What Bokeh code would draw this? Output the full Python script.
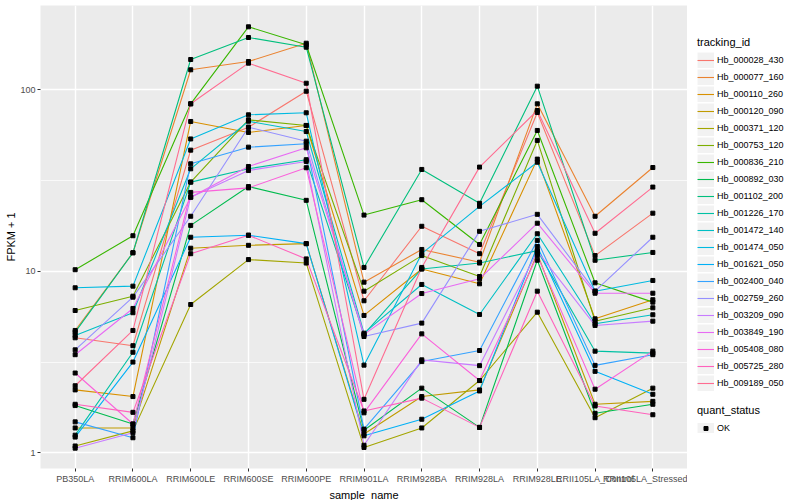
from bokeh.plotting import figure
from bokeh.models import FactorRange, Range1d, Legend, LegendItem, FixedTicker
from bokeh.layouts import row
from bokeh.embed import file_html
from bokeh.resources import INLINE

samples = ["PB350LA", "RRIM600LA", "RRIM600LE", "RRIM600SE", "RRIM600PE", "RRIM901LA",
           "RRIM928BA", "RRIM928LA", "RRIM928LE", "RRII105LA_Control", "RRII105LA_Stressed"]

tracking_ids = ["Hb_000028_430", "Hb_000077_160", "Hb_000110_260", "Hb_000120_090",
                "Hb_000371_120", "Hb_000753_120", "Hb_000836_210", "Hb_000892_030",
                "Hb_001102_200", "Hb_001226_170", "Hb_001472_140", "Hb_001474_050",
                "Hb_001621_050", "Hb_002400_040", "Hb_002759_260", "Hb_003209_090",
                "Hb_003849_190", "Hb_005408_080", "Hb_005725_280", "Hb_009189_050"]

colors = ["#F8766D", "#EA8331", "#D89000", "#C09B00", "#A3A500", "#7CAE00", "#39B600",
          "#00BB4E", "#00BF7D", "#00C1A3", "#00BFC4", "#00BAE0", "#00B0F6", "#35A2FF",
          "#9590FF", "#C77CFF", "#E76BF3", "#FA62DB", "#FF62BC", "#FF6C91"]

hb_000028_430 = [4.30, 3.89, 46.5, 62.2, 98.2, 6.88, 17.7, 12.5, 75.0, 12.2, 20.9]
hb_000077_160 = [4.72, 12.65, 128.9, 143.2, 180.6, 8.71, 13.19, 11.22, 83.7, 20.1, 37.3]
hb_000110_260 = [2.22, 2.04, 66.9, 58.2, 63.6, 5.71, 10.3, 8.53, 41.5, 5.47, 6.97]
hb_000120_090 = [1.37, 1.37, 13.4, 13.9, 14.2, 1.27, 2.04, 2.22, 12.5, 1.85, 1.92]
hb_000371_120 = [1.09, 1.32, 6.56, 11.6, 11.1, 1.07, 1.37, 2.50, 5.95, 1.56, 2.27]
hb_000753_120 = [6.08, 7.29, 31.0, 68.3, 63.6, 7.77, 12.2, 9.36, 52.6, 5.31, 6.29]
hb_000836_210 = [10.2, 15.7, 83.7, 222.4, 177.0, 20.4, 24.8, 14.05, 59.7, 8.64, 6.76]
hb_000892_030 = [1.82, 1.44, 17.9, 29.3, 24.6, 1.33, 2.27, 1.38, 11.5, 1.65, 1.85]
hb_001102_200 = [4.62, 12.65, 146.9, 194.2, 171.7, 10.5, 36.4, 23.7, 104.7, 11.5, 12.7]
hb_001226_170 = [1.25, 3.58, 31.0, 36.7, 41.2, 4.49, 10.3, 11.1, 13.0, 3.63, 3.54]
hb_001472_140 = [4.43, 5.91, 36.7, 67.1, 58.9, 4.56, 8.46, 5.78, 16.1, 5.14, 5.76]
hb_001474_050 = [8.11, 8.28, 53.6, 72.8, 74.7, 3.04, 12.5, 22.8, 39.9, 7.77, 8.90]
hb_001621_050 = [1.22, 3.16, 15.4, 15.8, 14.2, 1.24, 1.53, 2.19, 13.7, 2.81, 2.10]
hb_002400_040 = [1.48, 1.21, 39.1, 48.3, 50.4, 1.35, 3.18, 3.66, 14.8, 3.03, 3.47]
hb_002759_260 = [3.69, 7.20, 20.1, 62.2, 52.1, 4.37, 5.18, 16.6, 20.6, 7.77, 15.4]
hb_003209_090 = [1.06, 1.29, 25.6, 35.9, 40.3, 1.10, 3.25, 3.02, 12.9, 5.03, 5.31]
hb_003849_190 = [3.47, 6.24, 25.6, 37.8, 47.9, 4.49, 7.54, 9.09, 18.4, 7.57, 7.57]
hb_005408_080 = [2.75, 1.44, 27.2, 28.8, 37.2, 1.66, 4.52, 2.50, 12.2, 2.24, 3.63]
hb_005725_280 = [1.85, 1.67, 12.5, 15.8, 11.7, 1.70, 2.00, 1.38, 7.77, 1.81, 1.62]
hb_009189_050 = [2.34, 4.72, 83.7, 140.2, 108.7, 1.97, 10.5, 37.5, 76.9, 16.2, 29.1]

series = [hb_000028_430, hb_000077_160, hb_000110_260, hb_000120_090, hb_000371_120,
          hb_000753_120, hb_000836_210, hb_000892_030, hb_001102_200, hb_001226_170,
          hb_001472_140, hb_001474_050, hb_001621_050, hb_002400_040, hb_002759_260,
          hb_003209_090, hb_003849_190, hb_005408_080, hb_005725_280, hb_009189_050]

quant_status = ["OK"]

FONT = "Liberation Sans"

p = figure(x_range=FactorRange(factors=samples, range_padding=0.1, range_padding_units="absolute"),
           y_axis_type="log", y_range=Range1d(0.819, 291.4),
           frame_width=647, frame_height=463,
           min_border_left=40, min_border_right=0, min_border_top=5, min_border_bottom=32,
           output_backend="svg", toolbar_location=None,
           background_fill_color="#EBEBEB", border_fill_color="white", outline_line_color=None)

p.xgrid.grid_line_color = "white"
p.xgrid.grid_line_width = 1.4
p.ygrid.grid_line_color = "white"
p.ygrid.grid_line_width = 1.4
p.ygrid.minor_grid_line_color = "white"
p.ygrid.minor_grid_line_width = 0.7

p.yaxis.ticker = FixedTicker(ticks=[1, 10, 100], minor_ticks=[3.1623, 31.623, 316.23])
p.yaxis.major_label_overrides = {1: "1", 10: "10", 100: "100"}

for ax in (p.xaxis, p.yaxis):
    ax.axis_line_color = None
    ax.major_tick_out = 3
    ax.major_tick_in = 0
    ax.minor_tick_out = 0
    ax.minor_tick_in = 0
    ax.major_tick_line_color = "#333333"
    ax.major_label_text_font = FONT
    ax.major_label_text_font_size = "9px"
    ax.major_label_text_color = "#4D4D4D"
    ax.axis_label_text_font = FONT
    ax.axis_label_text_font_size = "11px"
    ax.axis_label_text_font_style = "normal"
    ax.axis_label_text_color = "black"
    ax.major_label_standoff = 2

p.xaxis.axis_label = "sample_name"
p.xaxis.axis_label_standoff = 2
p.yaxis.axis_label = "FPKM + 1"
p.yaxis.axis_label_standoff = 0

for name, col, vals in zip(tracking_ids, colors, series):
    p.line(x=samples, y=vals, line_color=col, line_width=1.1)

all_x = [s for vals in series for s in samples]
all_y = [v for vals in series for v in vals]
p.scatter(x=all_x, y=all_y, marker="square", size=4, color="black")

# legend panel (glyph data lies outside its visible range, only legend keys show)
lp = figure(width=113, height=500, x_range=Range1d(0, 1), y_range=Range1d(0, 1),
            min_border_left=0, min_border_right=0, min_border_top=0, min_border_bottom=0,
            x_axis_location=None, y_axis_location=None,
            output_backend="svg", toolbar_location=None, outline_line_color=None,
            background_fill_color="white", border_fill_color="white")
lp.grid.visible = False

hx = [5, 6]
hy = [5, 5]
bg = lp.line(hx, hy, line_width=16, line_color="#F2F2F2")
items = []
for name, col in zip(tracking_ids, colors):
    r = lp.line(hx, hy, line_color=col, line_width=1.1)
    items.append(LegendItem(label=name, renderers=[bg, r]))
ok_r = lp.scatter(hx, hy, marker="square", size=4, color="black")


def style_legend(lg, gh=16):
    lg.orientation = "vertical"
    lg.padding = 0
    lg.margin = 0
    lg.spacing = 1
    lg.glyph_width = 17
    lg.glyph_height = gh
    lg.label_height = 16
    lg.label_standoff = 3
    lg.label_text_font = FONT
    lg.label_text_font_size = "9px"
    lg.label_text_color = "black"
    lg.title_text_font = FONT
    lg.title_text_font_size = "11px"
    lg.title_text_font_style = "normal"
    lg.title_text_color = "black"
    lg.title_standoff = 4
    lg.border_line_color = None
    lg.background_fill_alpha = 0


leg1 = Legend(items=items, title="tracking_id", location=(10, 74))
style_legend(leg1)
leg2 = Legend(items=[LegendItem(label=quant_status[0], renderers=[bg, ok_r])],
              title="quant_status", location=(10, 29))
style_legend(leg2, gh=10)
lp.add_layout(leg1, "center")
lp.add_layout(leg2, "center")

layout = row(p, lp, spacing=0)
open("out.html", "w").write(file_html(layout, INLINE))
